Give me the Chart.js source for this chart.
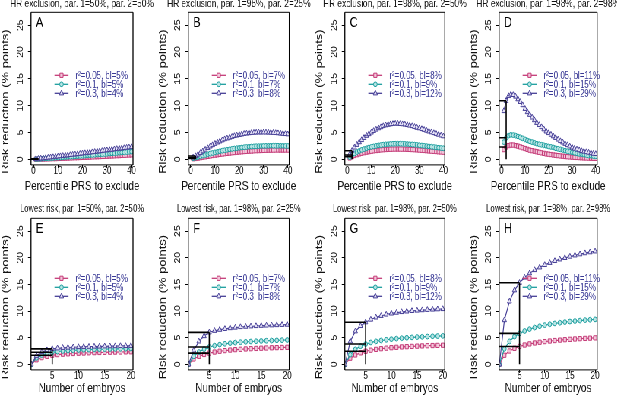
<!DOCTYPE html>
<html><head><meta charset="utf-8">
<script src="https://cdn.jsdelivr.net/npm/chart.js@4.4.1/dist/chart.umd.min.js"></script>
<style>
html,body{margin:0;padding:0;background:#fff;}
#wrap{position:absolute;left:0;top:0;width:812px;height:396px;transform:scaleX(0.76);transform-origin:0 0;}
canvas{position:absolute;}
</style></head><body><div id="wrap"></div>
<script>
// ---------------- DATA ----------------
const percentiles = [1,2,3,4,5,6,7,8,9,10,11,12,13,14,15,16,17,18,19,20,21,22,23,24,25,26,27,28,29,30,31,32,33,34,35,36,37,38,39,40];
const embryos = [1,2,3,4,5,6,7,8,9,10,11,12,13,14,15,16,17,18,19,20];
const xTicksTop = [0,10,20,30,40];
const xTicksBottom = [5,10,15,20];
const yTicks = [0,5,10,15,20,25];
const r2Levels = ['0.05','0.1','0.3'];

// Panel A: HR exclusion, par.1=50%, par.2=50%
const A_r005 = [0.01,0.02,0.04,0.05,0.07,0.08,0.1,0.12,0.13,0.15,0.17,0.19,0.21,0.23,0.25,0.27,0.29,0.31,0.33,0.35,0.37,0.39,0.41,0.44,0.46,0.48,0.5,0.53,0.55,0.57,0.6,0.62,0.64,0.67,0.69,0.72,0.74,0.77,0.79,0.82];
const A_r01  = [0.03,0.06,0.09,0.12,0.15,0.18,0.21,0.25,0.28,0.31,0.34,0.38,0.41,0.44,0.48,0.51,0.55,0.58,0.62,0.65,0.69,0.72,0.76,0.8,0.83,0.87,0.91,0.95,0.98,1.02,1.06,1.1,1.14,1.18,1.22,1.26,1.3,1.34,1.39,1.43];
const A_r03  = [0.05,0.1,0.15,0.2,0.26,0.31,0.37,0.42,0.48,0.53,0.59,0.64,0.7,0.75,0.81,0.87,0.92,0.98,1.04,1.1,1.16,1.21,1.27,1.33,1.39,1.45,1.51,1.57,1.63,1.69,1.75,1.81,1.87,1.93,1.99,2.05,2.11,2.17,2.23,2.29];
const A_bl = ['5%','5%','4%'];
// Panel B
const B_r005 = [0.1,0.15,0.22,0.3,0.38,0.46,0.54,0.62,0.7,0.77,0.84,0.91,0.98,1.04,1.1,1.16,1.21,1.26,1.31,1.36,1.4,1.44,1.48,1.51,1.54,1.57,1.6,1.62,1.64,1.66,1.68,1.69,1.7,1.71,1.72,1.72,1.72,1.72,1.72,1.71];
const B_r01  = [0.2,0.3,0.42,0.55,0.68,0.8,0.93,1.05,1.17,1.28,1.39,1.49,1.59,1.68,1.77,1.85,1.93,2.0,2.07,2.13,2.19,2.24,2.29,2.33,2.37,2.4,2.43,2.45,2.47,2.49,2.5,2.51,2.52,2.52,2.52,2.52,2.51,2.5,2.49,2.48];
const B_r03  = [0.35,0.6,0.9,1.2,1.5,1.8,2.1,2.4,2.65,2.9,3.15,3.35,3.55,3.75,3.9,4.05,4.2,4.35,4.45,4.55,4.65,4.75,4.82,4.88,4.93,4.97,5.0,5.02,5.03,5.03,5.02,5.0,4.98,4.95,4.91,4.87,4.82,4.77,4.72,4.67];
const B_bl = ['7%','7%','8%'];
// Panel C
const C_r005 = [0.25,0.5,0.7,0.85,1.0,1.12,1.23,1.33,1.42,1.5,1.57,1.63,1.69,1.74,1.78,1.82,1.85,1.87,1.89,1.9,1.9,1.9,1.89,1.88,1.86,1.84,1.81,1.78,1.75,1.72,1.68,1.64,1.6,1.56,1.52,1.48,1.44,1.4,1.36,1.32];
const C_r01  = [0.4,0.8,1.1,1.35,1.55,1.75,1.9,2.05,2.2,2.3,2.4,2.5,2.6,2.65,2.72,2.78,2.82,2.86,2.88,2.9,2.9,2.9,2.88,2.86,2.84,2.8,2.76,2.72,2.68,2.62,2.56,2.5,2.45,2.4,2.34,2.28,2.22,2.16,2.1,2.05];
const C_r03  = [0.9,1.6,2.2,2.7,3.2,3.6,4.0,4.4,4.7,5.0,5.3,5.55,5.8,6.0,6.2,6.35,6.45,6.55,6.6,6.65,6.65,6.6,6.55,6.5,6.4,6.3,6.2,6.05,5.9,5.8,5.65,5.5,5.35,5.2,5.05,4.9,4.75,4.6,4.45,4.3];
const C_bl = ['8%','9%','12%'];
// Panel D
const D_r005 = [1.8,2.3,2.55,2.65,2.65,2.55,2.45,2.3,2.15,2.0,1.85,1.7,1.6,1.5,1.4,1.3,1.2,1.1,1.0,0.95,0.88,0.8,0.74,0.68,0.62,0.57,0.52,0.48,0.44,0.4,0.37,0.34,0.31,0.28,0.26,0.24,0.22,0.2,0.18,0.17];
const D_r01  = [3.2,4.0,4.4,4.55,4.5,4.4,4.25,4.1,3.9,3.7,3.5,3.35,3.2,3.05,2.9,2.8,2.7,2.6,2.5,2.4,2.3,2.2,2.05,1.95,1.85,1.7,1.6,1.5,1.4,1.3,1.2,1.1,1.0,0.95,0.85,0.8,0.7,0.65,0.6,0.55];
const D_r03  = [9.0,10.9,11.8,12.1,12.0,11.7,11.2,10.7,10.1,9.4,8.8,8.3,7.8,7.3,6.8,6.4,6.0,5.6,5.2,4.9,4.6,4.3,4.0,3.7,3.4,3.15,2.9,2.65,2.4,2.2,2.0,1.85,1.7,1.55,1.45,1.35,1.25,1.15,1.05,1.0];
const D_bl = ['11%','15%','29%'];
// Panel E
const E_r005 = [0,0.85,1.25,1.5,1.7,1.82,1.9,1.97,2.03,2.08,2.12,2.16,2.19,2.22,2.25,2.27,2.29,2.31,2.33,2.35];
const E_r01  = [0,1.2,1.75,2.05,2.25,2.4,2.5,2.57,2.63,2.68,2.72,2.76,2.79,2.82,2.85,2.87,2.89,2.91,2.93,2.95];
const E_r03  = [0,1.6,2.3,2.65,2.9,3.0,3.1,3.15,3.2,3.25,3.28,3.31,3.34,3.36,3.38,3.4,3.42,3.44,3.45,3.47];
const E_bl = ['5%','5%','4%'];
// Panel F
const F_r005 = [0,1.0,1.5,1.85,2.1,2.3,2.45,2.57,2.67,2.75,2.82,2.88,2.93,2.98,3.02,3.06,3.1,3.13,3.16,3.19];
const F_r01  = [0,1.5,2.3,2.85,3.25,3.5,3.7,3.85,3.97,4.07,4.15,4.22,4.28,4.33,4.38,4.42,4.46,4.5,4.53,4.56];
const F_r03  = [0,2.6,4.3,5.3,6.0,6.3,6.5,6.65,6.8,6.9,7.0,7.07,7.13,7.19,7.24,7.29,7.33,7.37,7.41,7.45];
const F_bl = ['7%','7%','8%'];
// Panel G
const G_r005 = [0,1.15,1.75,2.15,2.45,2.65,2.8,2.93,3.03,3.12,3.19,3.26,3.31,3.36,3.41,3.45,3.49,3.52,3.55,3.58];
const G_r01  = [0,1.8,2.8,3.4,3.8,4.1,4.3,4.47,4.6,4.72,4.82,4.9,4.98,5.05,5.11,5.16,5.21,5.26,5.3,5.34];
const G_r03  = [0,4.3,6.2,7.2,7.9,8.4,8.8,9.1,9.35,9.55,9.7,9.82,9.93,10.02,10.1,10.17,10.23,10.29,10.34,10.38];
const G_bl = ['8%','9%','12%'];
// Panel H
const H_r005 = [0,1.7,2.5,3.0,3.35,3.62,3.83,4.0,4.14,4.26,4.37,4.46,4.54,4.62,4.69,4.75,4.81,4.86,4.91,4.96];
const H_r01  = [0,2.9,4.3,5.2,5.8,6.25,6.6,6.9,7.15,7.35,7.52,7.67,7.8,7.92,8.03,8.12,8.21,8.29,8.36,8.43];
const H_r03  = [0,8.3,11.8,13.9,15.3,16.3,17.1,17.7,18.2,18.65,19.05,19.4,19.7,19.97,20.22,20.45,20.66,20.86,21.04,21.2];
const H_bl = ['11%','15%','29%'];

const titlesTop = ['HR exclusion, par. 1=50%, par. 2=50%','HR exclusion, par. 1=98%, par. 2=25%','HR exclusion, par. 1=98%, par. 2=50%','HR exclusion, par. 1=98%, par. 2=98%'];
const titlesBottom = ['Lowest risk, par. 1=50%, par. 2=50%','Lowest risk, par. 1=98%, par. 2=25%','Lowest risk, par. 1=98%, par. 2=50%','Lowest risk, par. 1=98%, par. 2=98%'];
const yTitle = 'Risk reduction (% points)';
const xTitleTop = 'Percentile PRS to exclude';
const xTitleBottom = 'Number of embryos';
const markTop = 2;      // highlighted percentile
const markBottom = 5;   // highlighted number of embryos

// ---------------- LAYOUT / STYLE ----------------
const S = 0.76;
const FONT = "'Liberation Sans', Arial, Helvetica, sans-serif";
const TXT = '#111';
const STYLES = [
  {line:'#c43c78', fill:'#f3c6da', style:'rect', r:3},
  {line:'#1b9e9e', fill:'#b8e4e4', style:'circle', r:2.4},
  {line:'#463f96', fill:'#e6e3f7', style:'triangle', r:3.2}
];
const COLS = [[31,133],[188,289],[345,445],[499,597]];
const ROWS = [
  {top:0, h:196, boxTop:12.3, boxBottom:164.9, xTitleY:186, titleY:4, titleSize:11, xMin:-1.0, xMax:40.6, ticks:xTicksTop, xs:percentiles, mark:markTop, xTitle:xTitleTop, titles:titlesTop, legTop:63},
  {top:196, h:200, boxTop:22.3, boxBottom:173.9, xTitleY:192, titleY:13, titleSize:10, xMin:0.95, xMax:20.4, ticks:xTicksBottom, xs:embryos, mark:markBottom, xTitle:xTitleBottom, titles:titlesBottom, legTop:60}
];
const panels = [
  {letter:'A', row:0, col:0, s:[A_r005,A_r01,A_r03], bl:A_bl},
  {letter:'B', row:0, col:1, s:[B_r005,B_r01,B_r03], bl:B_bl},
  {letter:'C', row:0, col:2, s:[C_r005,C_r01,C_r03], bl:C_bl},
  {letter:'D', row:0, col:3, s:[D_r005,D_r01,D_r03], bl:D_bl},
  {letter:'E', row:1, col:0, s:[E_r005,E_r01,E_r03], bl:E_bl},
  {letter:'F', row:1, col:1, s:[F_r005,F_r01,F_r03], bl:F_bl},
  {letter:'G', row:1, col:2, s:[G_r005,G_r01,G_r03], bl:G_bl},
  {letter:'H', row:1, col:3, s:[H_r005,H_r01,H_r03], bl:H_bl}
];

function drawMarker(ctx, st, x, y){
  ctx.save();
  ctx.fillStyle = st.fill; ctx.strokeStyle = st.line; ctx.lineWidth = 1;
  ctx.beginPath();
  if (st.style === 'rect') { const h = st.r*Math.SQRT1_2; ctx.rect(x-h, y-h, 2*h, 2*h); }
  else if (st.style === 'circle') { ctx.arc(x, y, st.r, 0, Math.PI*2); }
  else { const r = st.r; ctx.moveTo(x, y-r); ctx.lineTo(x+0.866*r, y+0.5*r); ctx.lineTo(x-0.866*r, y+0.5*r); ctx.closePath(); }
  ctx.fill(); ctx.stroke(); ctx.restore();
}

function decoPlugin(p, row){
  return {
    id: 'deco'+p.letter,
    afterDraw(chart){
      const ctx = chart.ctx, a = chart.chartArea, ys = chart.scales.y;
      ctx.save();
      // box
      ctx.strokeStyle = '#000';
      ctx.lineWidth = 1;
      ctx.beginPath(); ctx.moveTo(a.left, a.top); ctx.lineTo(a.right, a.top); ctx.moveTo(a.left, a.bottom); ctx.lineTo(a.right, a.bottom); ctx.stroke();
      ctx.lineWidth = 1.3;
      ctx.beginPath(); ctx.moveTo(a.left, a.top); ctx.lineTo(a.left, a.bottom); ctx.moveTo(a.right, a.top); ctx.lineTo(a.right, a.bottom); ctx.stroke();
      // y tick labels (rotated)
      ctx.fillStyle = TXT;
      ctx.font = '10.5px ' + FONT; ctx.textAlign = 'center'; ctx.textBaseline = 'middle';
      yTicks.forEach(v => {
        const y = ys.getPixelForValue(v);
        ctx.save(); ctx.translate(a.left - 10.5/S, y); ctx.rotate(-Math.PI/2); ctx.fillText(String(v), 0, 0); ctx.restore();
      });
      // y title
      ctx.font = '13px ' + FONT;
      ctx.save(); ctx.translate(a.left - 25/S, (a.top + a.bottom)/2 + 13); ctx.rotate(-Math.PI/2); ctx.fillText(yTitle, 0, 0); ctx.restore();
      // x title
      ctx.fillText(row.xTitle, (a.left + a.right)/2, row.xTitleY);
      // panel title
      ctx.font = row.titleSize + 'px ' + FONT;
      ctx.fillText(row.titles[p.col], (a.left + a.right)/2, row.titleY);
      // letter
      ctx.font = '14.5px ' + FONT; ctx.textAlign = 'left'; ctx.textBaseline = 'alphabetic'; ctx.fillStyle = '#000';
      ctx.fillText(p.letter, a.left + 5/S, a.top + 14.5);
      // legend
      ctx.font = '10.5px ' + FONT; ctx.textBaseline = 'middle';
      for (let i = 0; i < 3; i++) {
        const st = STYLES[i];
        const y = a.top + row.legTop + i*9;
        const x0 = a.left + 23.5/S, x1 = a.left + 37.5/S;
        ctx.strokeStyle = st.line; ctx.lineWidth = 1.3;
        ctx.beginPath(); ctx.moveTo(x0, y); ctx.lineTo(x1, y); ctx.stroke();
        drawMarker(ctx, st, (x0 + x1)/2, y);
        ctx.fillStyle = '#3a3a96';
        ctx.fillText('r\u00B2=' + r2Levels[i] + ', bl=' + p.bl[i], a.left + 44.5/S, y + 0.5);
      }
      ctx.restore();
    }
  };
}

const wrap = document.getElementById('wrap');
panels.forEach(p => {
  const row = ROWS[p.row];
  const [L, R] = COLS[p.col];
  const cx0 = Math.max(0, L - 31 - 22);
  const cx1 = Math.min(617, R + 26);
  const cLeft = cx0/S;
  const cW = Math.round((cx1 - cx0)/S);
  const cv = document.createElement('canvas');
  cv.width = cW; cv.height = row.h;
  cv.style.left = cLeft + 'px'; cv.style.top = row.top + 'px';
  cv.style.width = cW + 'px'; cv.style.height = row.h + 'px';
  wrap.appendChild(cv);
  const yAxisW = (L - cx0)/S;
  const padRight = cW - yAxisW - (R - L)/S;

  const datasets = [];
  p.s.forEach((vals, i) => {
    const st = STYLES[i];
    datasets.push({
      data: row.xs.map((x, j) => ({x: x, y: vals[j]})),
      borderColor: st.line, backgroundColor: st.fill,
      pointStyle: st.style, pointRadius: st.r, pointBorderWidth: 1,
      pointBackgroundColor: st.fill, pointBorderColor: st.line,
      borderWidth: 1.2, fill: false, tension: 0, order: 3 - i
    });
  });
  // highlighted reference lines read from the series at the marked x
  const idx = row.xs.indexOf(row.mark);
  const marks = p.s.map(v => v[idx]);
  const blk = {borderColor:'#000', borderWidth:1.6, pointRadius:0, fill:false, order:0};
  datasets.push(Object.assign({data:[{x:row.mark, y:0},{x:row.mark, y:Math.max(...marks)}]}, blk));
  marks.forEach(v => datasets.push(Object.assign({data:[{x:row.xMin, y:v},{x:row.mark, y:v}]}, blk)));

  new Chart(cv.getContext('2d'), {
    type: 'line',
    data: {datasets},
    options: {
      responsive: false, animation: false, devicePixelRatio: 1,
      layout: {padding: {top: row.boxTop, right: padRight, left: 0, bottom: 0}},
      plugins: {legend: {display: false}, tooltip: {enabled: false}},
      scales: {
        x: {
          type: 'linear', min: row.xMin, max: row.xMax,
          afterBuildTicks: s => { s.ticks = row.ticks.map(v => ({value: v})); },
          afterFit: s => { s.height = row.h - row.boxBottom; s.paddingLeft = 0; s.paddingRight = 0; },
          ticks: {font: {family: FONT, size: 10.5, lineHeight: 1}, color: TXT, padding: -2, maxRotation: 0, minRotation: 0, autoSkip: false},
          grid: {display: true, drawOnChartArea: false, drawTicks: true, tickLength: 3, color: '#000', lineWidth: 1},
          border: {display: false}
        },
        y: {
          type: 'linear', min: -1.05, max: 27.4,
          afterBuildTicks: s => { s.ticks = yTicks.map(v => ({value: v})); },
          afterFit: s => { s.width = yAxisW; s.paddingTop = 0; s.paddingBottom = 0; },
          ticks: {display: false},
          grid: {display: true, drawOnChartArea: false, drawTicks: true, tickLength: 4, color: '#000', lineWidth: 1},
          border: {display: false}
        }
      }
    },
    plugins: [decoPlugin(p, row)]
  });
});
</script>
</body></html>
